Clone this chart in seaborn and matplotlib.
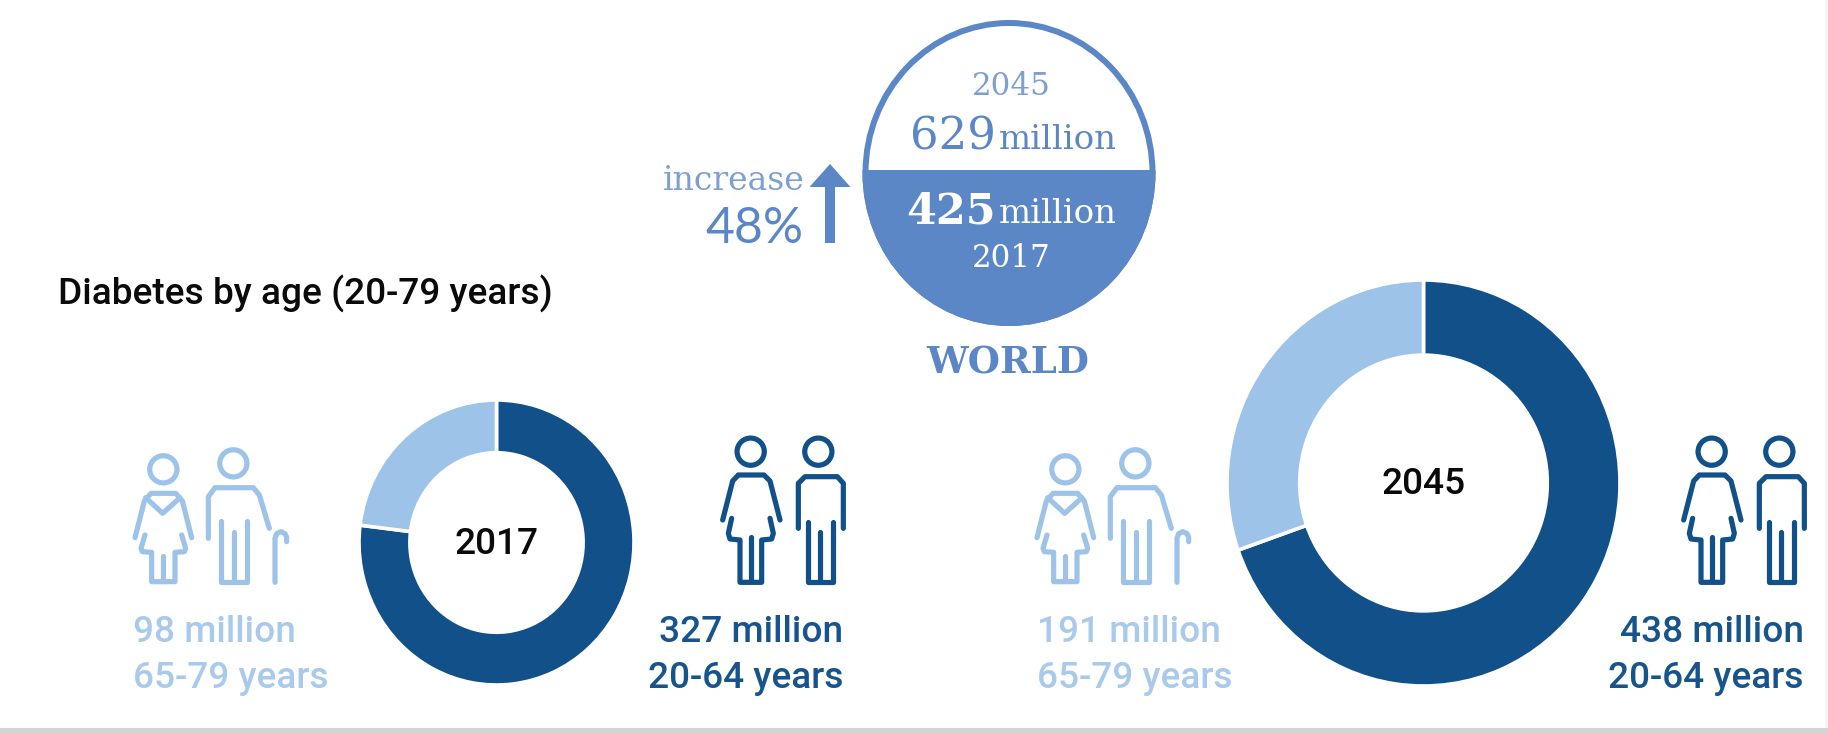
import numpy as np
import matplotlib
matplotlib.use("Agg")
import matplotlib.pyplot as plt
from matplotlib.patches import Ellipse, Rectangle, Circle
import seaborn as sns

# Diabetes prevalence, millions of people aged 20-79
years = ["2017", "2045"]
adults_20_64 = [327, 438]
seniors_65_79 = [98, 191]
world_totals = [425, 629]
world_increase = "48%"
chart_title = "Diabetes by age (20-79 years)"
age_young = "20-64 years"
age_old = "65-79 years"

W, H = 1828, 733
DPI = 100

sns.set_theme(style="white")
plt.rcParams["font.family"] = ["Roboto", "DejaVu Sans"]

DARK, LIGHT = sns.color_palette(["#12508A", "#9DC3E8"]).as_hex()
WORLD = "#5B87C7"
WORLD_SOFT = "#7D9FD3"
LIGHT_TEXT = "#A9CAEB"
DARK_TEXT = "#17548C"

fig = plt.figure(figsize=(W / DPI, H / DPI), dpi=DPI, facecolor="white")

# Full-figure canvas measured in pixels, y pointing down
canvas = fig.add_axes([0, 0, 1, 1], zorder=2)
canvas.set_xlim(0, W)
canvas.set_ylim(H, 0)
canvas.axis("off")
canvas.patch.set_alpha(0)


def pt(px):
    return px * 72 / DPI


def label(x, y, s, size, color, ha="left", va="baseline", weight="normal", family=None):
    kw = {"family": family} if family else {}
    return canvas.text(x, y, s, fontsize=pt(size), color=color, ha=ha, va=va,
                       fontweight=weight, **kw)


def donut(values, left, top, right, bottom, center_text, cx, cy):
    ax = fig.add_axes([left / W, 1 - bottom / H, (right - left) / W, (bottom - top) / H], zorder=1)
    ax.pie(values, colors=[DARK, LIGHT], startangle=90, counterclock=False, radius=1,
           wedgeprops=dict(width=0.37, edgecolor="white", linewidth=2.6))
    ax.set_aspect("auto")
    ax.set_xlim(-1, 1)
    ax.set_ylim(-1, 1)
    label(cx, cy, center_text, 37, "#0A0A0A", ha="center", va="center", weight="medium")


def stroke(xs, ys, color, ox, oy, ax0, ay0):
    canvas.plot(ox + ax0 + np.array(xs) / 3, oy + ay0 + np.array(ys) / 3, color=color, lw=pt(5.2),
                solid_capstyle="round", solid_joinstyle="round")


def head(x, y, color, ox, oy, ax0, ay0):
    canvas.add_patch(Circle((ox + ax0 + x / 3, oy + ay0 + y / 3), 13.6, fc="none", ec=color, lw=pt(5.2)))


def senior_pair(ox, oy=0, color=LIGHT):
    o = (ox, oy, 125, 435)
    # woman
    head(115, 103, color, *o)
    stroke([30, 58, 78, 152, 172, 200], [308, 198, 175, 175, 198, 308], color, *o)
    stroke([62, 113, 165], [188, 235, 188], color, *o)
    stroke([60, 48, 52, 80, 80, 150, 150, 178, 182, 170],
           [300, 340, 350, 352, 440, 440, 352, 350, 340, 300], color, *o)
    stroke([115, 115], [362, 436], color, *o)
    # man
    head(325, 85, color, *o)
    stroke([250, 250, 270, 385, 403, 433], [310, 185, 158, 158, 180, 280], color, *o)
    stroke([288, 288, 365, 365], [258, 440, 440, 258], color, *o)
    stroke([326, 326], [292, 436], color, *o)
    # walking stick
    stroke([450, 450, 455, 468, 480, 485, 485], [442, 310, 296, 290, 296, 306, 320], color, *o)


def adult_pair(ox, oy=0, color=DARK):
    o = (ox, oy, 710, 425)
    # woman
    head(122, 80, color, *o)
    stroke([38, 68, 85, 162, 180, 210], [285, 168, 150, 150, 168, 285], color, *o)
    stroke([65, 55, 60, 90, 90, 155, 155, 185, 190, 180],
           [280, 325, 342, 345, 472, 472, 345, 342, 325, 280], color, *o)
    stroke([122, 122], [335, 466], color, *o)
    # man
    head(325, 80, color, *o)
    stroke([265, 265, 285, 382, 400, 400], [310, 175, 155, 155, 175, 310], color, *o)
    stroke([293, 293, 370, 370], [290, 472, 472, 290], color, *o)
    stroke([331, 331], [320, 466], color, *o)


# Age-group rings
donut([adults_20_64[0], seniors_65_79[0]], 359, 400, 634, 685, years[0], 497, 544)
donut([adults_20_64[1], seniors_65_79[1]], 1227, 280, 1620, 686, years[1], 1424, 485)

senior_pair(0)
senior_pair(902)
adult_pair(0)
adult_pair(961)

# Labels beside each ring
label(133, 642, f"{seniors_65_79[0]} million", 37, LIGHT_TEXT, weight="medium")
label(133, 688, age_old, 37, LIGHT_TEXT, weight="medium")
label(843, 642, f"{adults_20_64[0]} million", 37, DARK_TEXT, ha="right", weight="medium")
label(843, 688, age_young, 37, DARK_TEXT, ha="right", weight="medium")
label(1037, 642, f"{seniors_65_79[1]} million", 37, LIGHT_TEXT, weight="medium")
label(1037, 688, age_old, 37, LIGHT_TEXT, weight="medium")
label(1804, 642, f"{adults_20_64[1]} million", 37, DARK_TEXT, ha="right", weight="medium")
label(1804, 688, age_young, 37, DARK_TEXT, ha="right", weight="medium")

label(58, 305, chart_title, 37, "#0A0A0A", weight="medium")

# World badge: outlined ellipse, lower half filled
cx, cy, ew, eh, split = 1009, 173, 287, 300, 170
canvas.add_patch(Ellipse((cx, cy), ew, eh, fc="white", ec=WORLD, lw=pt(6)))
lower = Ellipse((cx, cy), ew, eh, fc=WORLD, ec=WORLD, lw=pt(6))
canvas.add_patch(lower)
lower.set_clip_path(Rectangle((cx - ew, split), 2 * ew, eh, transform=canvas.transData))

SERIF = "DejaVu Serif"
label(1011, 95, years[1], 31, WORLD_SOFT, ha="center", family=SERIF)
label(996, 149, str(world_totals[1]), 45, WORLD, ha="right", family=SERIF)
label(999, 149, "million", 34, WORLD, family=SERIF)
label(996, 223, str(world_totals[0]), 43, "white", ha="right", weight="bold", family=SERIF)
label(999, 223, "million", 34, "white", family=SERIF)
label(1011, 267, years[0], 31, "white", ha="center", family=SERIF)
label(1008, 373, "WORLD", 37, WORLD, ha="center", weight="bold", family=SERIF)

label(804, 190, "increase", 33, WORLD_SOFT, ha="right", family=SERIF)
label(804, 243, world_increase, 50, WORLD, ha="right", family="Lato")
canvas.arrow(830, 243, 0, -79, width=10, head_width=41, head_length=23,
             length_includes_head=True, fc=WORLD, ec="none")

# Soft grey edge along the bottom
canvas.add_patch(Rectangle((0, 728), W, 5, fc="#D4D4D4", ec="none"))
canvas.add_patch(Rectangle((1825, 0), 3, 728, fc="#F4F4F4", ec="none"))

fig.savefig("out.png", dpi=DPI, facecolor="white")
